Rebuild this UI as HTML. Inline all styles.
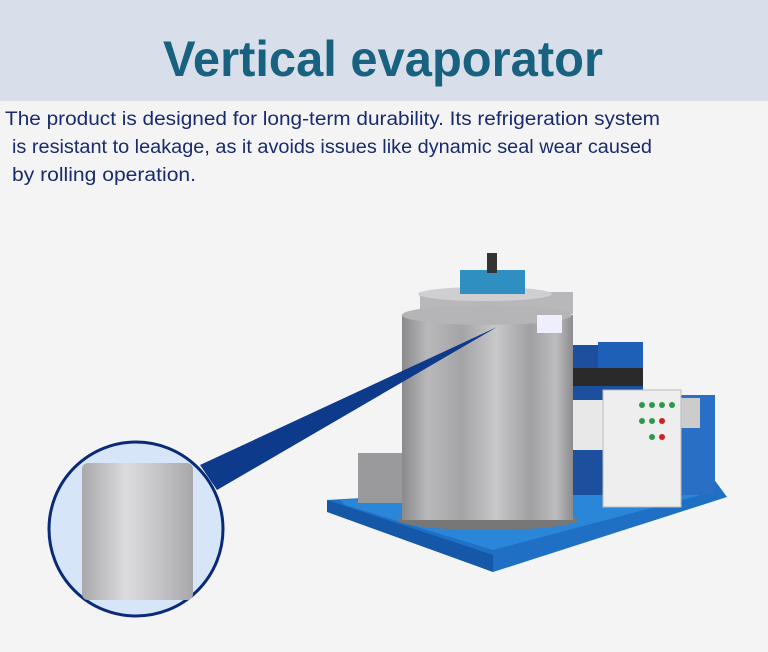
<!DOCTYPE html>
<html><head><meta charset="utf-8"><style>
html,body{margin:0;padding:0;width:768px;height:652px;overflow:hidden;background:#f4f4f4}
</style></head><body>
<svg width="768" height="652" viewBox="0 0 768 652" xmlns="http://www.w3.org/2000/svg">
<defs>
<linearGradient id="steel" x1="0" x2="1" y1="0" y2="0">
<stop offset="0" stop-color="#8a8a8c"/><stop offset="0.15" stop-color="#b9b9bb"/><stop offset="0.35" stop-color="#a4a4a6"/><stop offset="0.55" stop-color="#c8c8ca"/><stop offset="0.75" stop-color="#a0a0a2"/><stop offset="0.9" stop-color="#bdbdbf"/><stop offset="1" stop-color="#8c8c8e"/>
</linearGradient>
<linearGradient id="steel2" x1="0" x2="1" y1="0" y2="0">
<stop offset="0" stop-color="#a9a9ab"/><stop offset="0.4" stop-color="#dcdcde"/><stop offset="0.7" stop-color="#c4c4c6"/><stop offset="1" stop-color="#a8a8aa"/>
</linearGradient>
</defs>
<rect x="0" y="0" width="768" height="101" fill="#d8dfea"/>
<text x="383" y="76" text-anchor="middle" font-family="Liberation Sans, sans-serif" font-weight="bold" font-size="50" fill="#19627f" textLength="440" lengthAdjust="spacingAndGlyphs">Vertical evaporator</text>
<g font-family="Liberation Sans, sans-serif" font-size="19" fill="#1a2a6e">
<text x="5" y="125" textLength="655" lengthAdjust="spacingAndGlyphs">The product is designed for long-term durability. Its refrigeration system</text>
<text x="12" y="153" textLength="640" lengthAdjust="spacingAndGlyphs">is resistant to leakage, as it avoids issues like dynamic seal wear caused</text>
<text x="12" y="181" textLength="184" lengthAdjust="spacingAndGlyphs">by rolling operation.</text>
</g>
<!-- base frame -->
<polygon points="327,500 713,478 727,497 493,572 330,510" fill="#1f6fc4"/>
<polygon points="340,500 705,482 712,492 493,550 345,505" fill="#2a86d8"/>
<polygon points="327,500 493,555 493,572 327,512" fill="#1558a8"/>
<!-- compressors -->
<rect x="573" y="345" width="70" height="150" fill="#1c4f9e"/>
<rect x="598" y="342" width="45" height="40" fill="#1e5fb8"/>
<rect x="573" y="368" width="70" height="18" fill="#2a2a2a"/>
<rect x="573" y="400" width="30" height="50" fill="#e8e8e8"/>
<rect x="680" y="395" width="35" height="100" fill="#2a6fc6"/>
<rect x="680" y="398" width="20" height="30" fill="#ccc"/>
<!-- control box -->
<rect x="603" y="390" width="78" height="117" fill="#eeeeee" stroke="#bbb"/>
<g fill="#2a9a4a"><circle cx="642" cy="405" r="3"/><circle cx="652" cy="405" r="3"/><circle cx="662" cy="405" r="3"/><circle cx="672" cy="405" r="3"/><circle cx="642" cy="421" r="3"/><circle cx="652" cy="421" r="3"/><circle cx="652" cy="437" r="3"/></g>
<g fill="#d02020"><circle cx="662" cy="421" r="3"/><circle cx="662" cy="437" r="3"/></g>
<!-- small box -->
<rect x="358" y="453" width="44" height="50" fill="#9a9a9c"/>
<!-- cylinder -->
<ellipse cx="488" cy="520" rx="90" ry="10" fill="#777"/>
<rect x="420" y="292" width="153" height="22" fill="#b8b8ba"/>
<ellipse cx="485" cy="294" rx="67" ry="7" fill="#cfcfd1"/>
<rect x="460" y="270" width="65" height="24" fill="#2f8fc0"/>
<rect x="487" y="253" width="10" height="20" fill="#333"/>
<rect x="402" y="315" width="171" height="205" fill="url(#steel)"/>
<ellipse cx="487" cy="315" rx="85" ry="10" fill="#b5b5b7"/>
<rect x="537" y="315" width="25" height="18" fill="#eef"/>
<!-- beam -->
<polygon points="200,465 217,490 497,327" fill="#0d3a8a"/>
<!-- inset circle -->
<circle cx="136" cy="529" r="87" fill="#d6e6f8" stroke="#0a2a78" stroke-width="3"/>
<rect x="82" y="463" width="111" height="137" rx="6" fill="url(#steel2)"/>
</svg>
</body></html>
